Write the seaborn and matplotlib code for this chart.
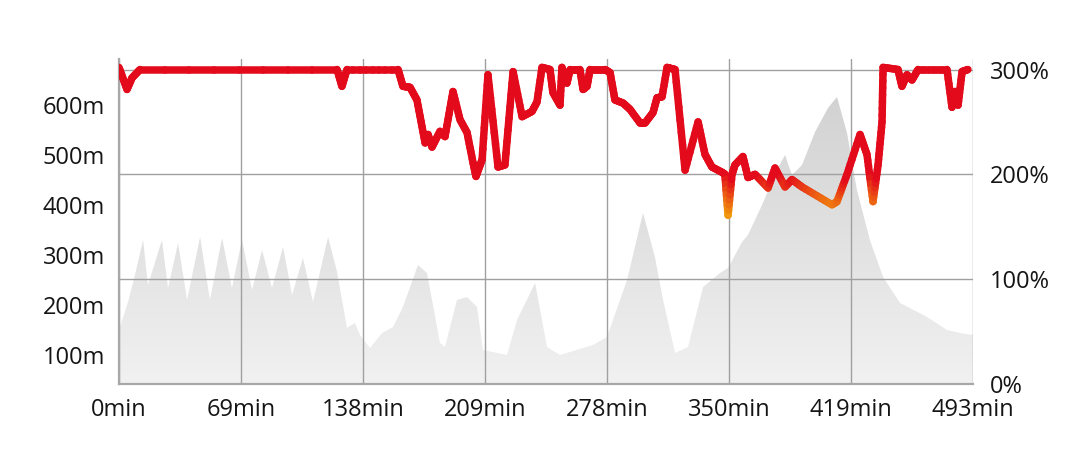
import numpy as np
import matplotlib
matplotlib.use("Agg")
import matplotlib.pyplot as plt
import seaborn as sns
from matplotlib.collections import LineCollection
from matplotlib.colors import LinearSegmentedColormap, Normalize

# elevation profile (minutes, metres)
elev_time = [0, 5.2, 9.2, 13.9, 16.7, 24.8, 28.3, 34.1, 39.3, 46.8, 52.5, 59.5, 65.2,
             71.0, 76.8, 82.6, 88.3, 94.7, 99.9, 106.2, 112.0, 120.7, 125.9, 131.6,
             136.2, 139.1, 144.9, 151.8, 158.2, 163.9, 172.6, 177.8, 185.3, 188.2,
             195.1, 200.9, 206.7, 210.1, 224.0, 229.8, 240.2, 247.1, 254.6, 273.6,
             281.7, 293.3, 302.5, 309.4, 314.1, 321.0, 328.5, 337.2, 347.0, 351.6,
             359.7, 363.1, 371.2, 380.4, 384.5, 388.5, 394.3, 401.8, 409.3, 414.5,
             420.3, 426.0, 433.5, 441.1, 450.9, 466.5, 478.0, 485.5, 493]
elev_m = [150, 206, 260, 330, 240, 330, 234, 324, 210, 336, 210, 334, 234,
          330, 230, 310, 234, 316, 220, 294, 206, 336, 266, 154,
          164, 140, 114, 144, 156, 196, 280, 264, 124, 116,
          210, 216, 196, 110, 100, 170, 244, 116, 100, 120,
          136, 250, 384, 296, 210, 104, 116, 236, 264, 274,
          326, 340, 400, 474, 500, 460, 480, 546, 594, 616,
          544, 430, 330, 256, 204, 176, 150, 144, 140]

# percentage line (minutes, %)
pct_time = [0, 4.6, 7.5, 12.1, 125.9, 128.7, 131.6, 161.1, 163.9, 168.0, 172.0, 176.7,
            178.4, 180.7, 185.3, 188.2, 192.8, 196.9, 200.9, 204.4, 206.1, 209.6,
            213.0, 218.8, 222.8, 227.5, 232.7, 238.4, 241.3, 244.2, 248.8, 250.5,
            254.6, 255.7, 258.6, 260.4, 266.1, 267.9, 270.2, 271.9, 280.6, 283.5,
            286.3, 291.0, 295.0, 300.8, 303.7, 308.3, 310.6, 313.5, 316.4, 321.0,
            326.8, 334.3, 338.3, 342.3, 348.1, 349.8, 351.6, 353.9, 355.6, 360.2,
            363.1, 367.2, 374.7, 378.7, 384.5, 388.5, 394.3, 411.6, 414.5, 420.3,
            427.8, 431.8, 435.3, 438.2, 440.5, 441.1, 449.7, 452.0, 454.9, 457.8,
            461.3, 478.0, 480.9, 482.6, 484.4, 486.7, 490.1]
pct_val = [302, 281, 292, 300, 300, 284, 300, 300, 284, 283, 271, 230,
           238, 226, 241, 236, 279, 252, 240, 211, 198, 214,
           295, 207, 209, 298, 255, 260, 269, 302, 300, 278,
           266, 302, 287, 300, 300, 281, 284, 300, 300, 297,
           271, 268, 262, 249, 249, 259, 273, 274, 302, 300,
           204, 250, 219, 207, 202, 200, 161, 200, 209, 217,
           197, 200, 187, 206, 188, 195, 188, 171, 174, 200,
           238, 219, 174, 209, 250, 302, 300, 284, 295, 290,
           300, 300, 264, 279, 266, 298, 300]

x_tick_labels = ["0min", "69min", "138min", "209min", "278min", "350min", "419min", "493min"]
elev_ticks = [100, 200, 300, 400, 500, 600]
pct_ticks = [0, 100, 200, 300]

sns.set_style("white")
plt.rcParams["font.family"] = ["Open Sans", "DejaVu Sans"]

fig = plt.figure(figsize=(10.8, 4.67), dpi=100)
ax = fig.add_axes([0.1102, 0.1777, 0.7907, 0.6959])

# grey elevation area with a vertical gradient
poly = ax.fill_between(elev_time, elev_m, 0, color="none", lw=0)
grad = np.linspace(0, 1, 256).reshape(-1, 1)
gray_cmap = LinearSegmentedColormap.from_list("g", ["#f1f1f1", "#d2d2d2"])
img = ax.imshow(grad, cmap=gray_cmap, aspect="auto", origin="lower",
                extent=[0, 493, 42, 620], zorder=0)
img.set_clip_path(poly.get_paths()[0], transform=ax.transData)

ax.set_xlim(0, 493)
ax.set_ylim(42, 692)
xt = np.linspace(0, 493, 8)
ax.set_xticks(xt)
ax.set_xticklabels(x_tick_labels)
ax.set_yticks(elev_ticks)
ax.set_yticklabels([f"{v}m" for v in elev_ticks])
ax.grid(axis="x", color="#a0a0a0", lw=1)
ax.grid(axis="y", visible=False)
ax.tick_params(length=0, labelsize=17, colors="#151515", pad=10)
for s in ["top", "right"]:
    ax.spines[s].set_visible(False)
for s in ["left", "bottom"]:
    ax.spines[s].set_color("#a8a8a8")
    ax.spines[s].set_linewidth(1.6)

ax2 = ax.twinx()
ax2.set_ylim(0, 310)
ax2.set_yticks(pct_ticks)
ax2.set_yticklabels([f"{v}%" for v in pct_ticks])
ax2.tick_params(length=0, labelsize=17, colors="#151515", pad=12)
ax2.grid(axis="y", color="#a0a0a0", lw=1)
for s in ax2.spines.values():
    s.set_visible(False)

# red line coloured by value (orange where it drops low)
t = np.array(pct_time, dtype=float)
v = np.array(pct_val, dtype=float)
segs, cols = [], []
for i in range(len(t) - 1):
    fr = np.linspace(0, 1, 9)
    xs = t[i] + (t[i + 1] - t[i]) * fr
    ys = v[i] + (v[i + 1] - v[i]) * fr
    for j in range(len(fr) - 1):
        segs.append([(xs[j], ys[j]), (xs[j + 1], ys[j + 1])])
        cols.append((ys[j] + ys[j + 1]) / 2)
red_cmap = LinearSegmentedColormap.from_list("r", ["#f3a50a", "#ec5e12", "#e30b1b", "#e30b1b"])
lc = LineCollection(segs, cmap=red_cmap, norm=Normalize(160, 215, clip=True),
                    linewidths=5.4, capstyle="round", joinstyle="round", zorder=5)
lc.set_array(np.array(cols))
ax2.add_collection(lc)

fig.savefig("out.png", dpi=100)
